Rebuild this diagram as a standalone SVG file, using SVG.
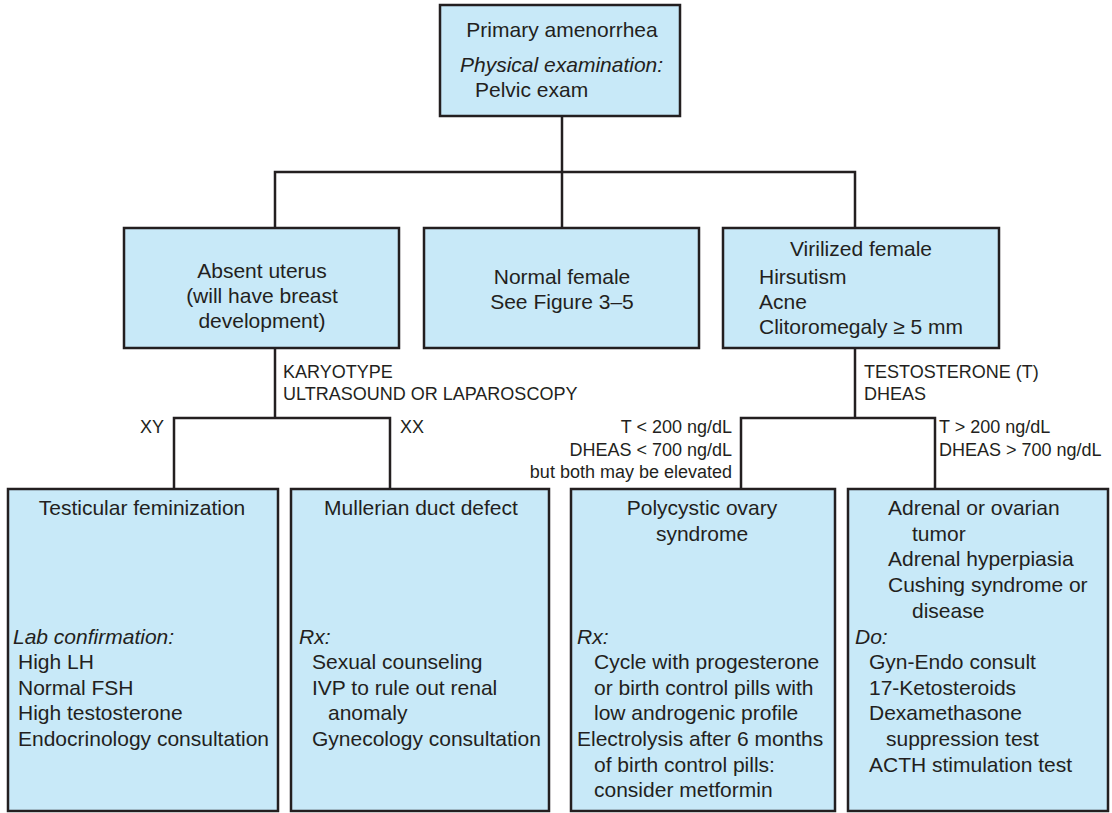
<svg xmlns="http://www.w3.org/2000/svg" width="1112" height="813" viewBox="0 0 1112 813">
<style>
.box{fill:#c8e9f8;stroke:#231f20;stroke-width:2.5}
.t{font-family:"Liberation Sans",Arial,sans-serif;font-size:21px;fill:#231f20}
.c{text-anchor:middle}
.i{font-style:italic}
.l{font-family:"Liberation Sans",Arial,sans-serif;font-size:18px;fill:#231f20}
.r{text-anchor:end}
.ln{fill:none;stroke:#231f20;stroke-width:2.5}
</style>
<rect width="1112" height="813" fill="#ffffff"/>
<g id="connectors">
<path class="ln" d="M562,116 V228"/>
<path class="ln" d="M275,228 V172 H855 V228"/>
<path class="ln" d="M275,348 V418"/>
<path class="ln" d="M174,489 V418 H390 V489"/>
<path class="ln" d="M855,348 V418"/>
<path class="ln" d="M741,489 V418 H935 V489"/>
</g>
<g id="labels">
<text class="l" x="283" y="378">KARYOTYPE</text>
<text class="l" x="283" y="400">ULTRASOUND OR LAPAROSCOPY</text>
<text class="l r" x="164" y="433">XY</text>
<text class="l" x="400" y="433">XX</text>
<text class="l" x="864" y="378">TESTOSTERONE (T)</text>
<text class="l" x="864" y="400">DHEAS</text>
<text class="l r" x="732" y="433">T &lt; 200 ng/dL</text>
<text class="l r" x="732" y="456">DHEAS &lt; 700 ng/dL</text>
<text class="l r" x="732" y="478">but both may be elevated</text>
<text class="l" x="939" y="433">T &gt; 200 ng/dL</text>
<text class="l" x="939" y="456">DHEAS &gt; 700 ng/dL</text>
</g>
<g id="primary">
<rect class="box" x="440" y="5" width="240" height="111"/>
<text class="t c" x="562" y="37">Primary amenorrhea</text>
<text class="t i" x="460" y="72">Physical examination:</text>
<text class="t" x="475" y="97">Pelvic exam</text>
</g>
<g id="absent-uterus">
<rect class="box" x="124" y="228" width="275" height="120"/>
<text class="t c" x="262" y="278">Absent uterus</text>
<text class="t c" x="262" y="303">(will have breast</text>
<text class="t c" x="262" y="328">development)</text>
</g>
<g id="normal-female">
<rect class="box" x="424" y="228" width="275" height="120"/>
<text class="t c" x="562" y="284">Normal female</text>
<text class="t c" x="562" y="309">See Figure 3–5</text>
</g>
<g id="virilized-female">
<rect class="box" x="723" y="228" width="276" height="120"/>
<text class="t c" x="861" y="256">Virilized female</text>
<text class="t" x="759" y="284">Hirsutism</text>
<text class="t" x="759" y="309">Acne</text>
<text class="t" x="759" y="334">Clitoromegaly ≥ 5 mm</text>
</g>
<g id="testicular-feminization">
<rect class="box" x="8" y="489" width="270" height="322"/>
<text class="t c" x="142" y="515">Testicular feminization</text>
<text class="t i" x="13" y="644">Lab confirmation:</text>
<text class="t" x="18" y="669">High LH</text>
<text class="t" x="18" y="695">Normal FSH</text>
<text class="t" x="18" y="720">High testosterone</text>
<text class="t" x="18" y="746">Endocrinology consultation</text>
</g>
<g id="mullerian-duct-defect">
<rect class="box" x="291" y="489" width="258" height="322"/>
<text class="t c" x="421" y="515">Mullerian duct defect</text>
<text class="t i" x="299" y="644">Rx:</text>
<text class="t" x="312" y="669">Sexual counseling</text>
<text class="t" x="312" y="695">IVP to rule out renal</text>
<text class="t" x="328" y="720">anomaly</text>
<text class="t" x="312" y="746">Gynecology consultation</text>
</g>
<g id="polycystic-ovary-syndrome">
<rect class="box" x="571" y="489" width="264" height="322"/>
<text class="t c" x="702" y="515">Polycystic ovary</text>
<text class="t c" x="702" y="541">syndrome</text>
<text class="t i" x="577" y="644">Rx:</text>
<text class="t" x="594" y="669">Cycle with progesterone</text>
<text class="t" x="594" y="695">or birth control pills with</text>
<text class="t" x="594" y="720">low androgenic profile</text>
<text class="t" x="577" y="746">Electrolysis after 6 months</text>
<text class="t" x="594" y="772">of birth control pills:</text>
<text class="t" x="594" y="797">consider metformin</text>
</g>
<g id="adrenal-ovarian-tumor">
<rect class="box" x="848" y="489" width="260" height="322"/>
<text class="t" x="888" y="515">Adrenal or ovarian</text>
<text class="t" x="912" y="541">tumor</text>
<text class="t" x="888" y="566">Adrenal hyperpiasia</text>
<text class="t" x="888" y="592">Cushing syndrome or</text>
<text class="t" x="912" y="618">disease</text>
<text class="t i" x="855" y="644">Do:</text>
<text class="t" x="869" y="669">Gyn-Endo consult</text>
<text class="t" x="869" y="695">17-Ketosteroids</text>
<text class="t" x="869" y="720">Dexamethasone</text>
<text class="t" x="886" y="746">suppression test</text>
<text class="t" x="869" y="772">ACTH stimulation test</text>
</g>
</svg>
